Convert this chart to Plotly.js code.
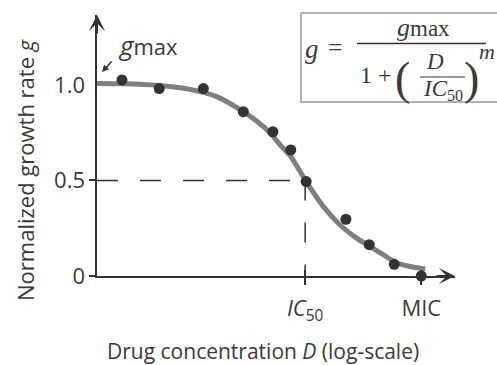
<!DOCTYPE html>
<html>
<head>
<meta charset="utf-8">
<script src="https://cdn.plot.ly/plotly-3.0.1.min.js"></script>
<style>html,body{margin:0;padding:0;background:#fff;}#chart{width:497px;height:365px;}</style>
</head>
<body>
<div id="chart"></div>
<script>
// Measured data (x: log-scale position, IC50 = 1; y: normalized growth rate)
var dotX = [0.120, 0.299, 0.511, 0.703, 0.845, 0.931, 1.005, 1.196, 1.308, 1.428, 1.558];
var dotY = [1.026, 0.981, 0.981, 0.860, 0.755, 0.660, 0.494, 0.297, 0.164, 0.061, 0.0];
var fitX = [0, 0.127, 0.287, 0.447, 0.575, 0.703, 0.800, 0.845, 0.880, 0.931, 1.005, 1.088, 1.168, 1.249, 1.308, 1.377, 1.441, 1.505, 1.561, 1.577];
var fitY = [1.008, 1.006, 0.998, 0.977, 0.939, 0.860, 0.782, 0.733, 0.686, 0.625, 0.494, 0.363, 0.267, 0.197, 0.157, 0.110, 0.068, 0.050, 0.040, 0.038];
var xTickVals = [1.0, 1.558];
var xTickText = ['<i>IC</i><sub>50</sub>', 'MIC'];
var yTickVals = [0, 0.5, 1.0];
var yTickText = ['0', '0.5', '1.0'];
var halfY = 0.5, ic50X = 1.0;
var xMax = 1.72, yMax = 1.366;

var ink = '#333333';
var textCol = '#3a3a3a';
var sans = 'Open Sans, sans-serif';
var serif = 'Liberation Serif, DejaVu Serif, serif';

// pixel -> paper helpers for the formula box layout (plot area 97..455 x 15..276)
function PX(px){ return (px - 97) / 358; }
function PY(py){ return (276 - py) / 261; }

var traces = [
  {x: fitX, y: fitY, type: 'scatter', mode: 'lines', line: {color: '#7f7f7f', width: 5, shape: 'spline', smoothing: 0.8}, hoverinfo: 'skip', cliponaxis: false},
  {x: dotX, y: dotY, type: 'scatter', mode: 'markers', marker: {color: ink, size: 11}, cliponaxis: false},
  {x: dotX, y: dotY, xaxis: 'x2', yaxis: 'y2', type: 'scatter', mode: 'markers', marker: {opacity: 0}, hoverinfo: 'skip', showlegend: false}
];

var ann = [];
function txt(x, y, s, size, fam, extra){
  var a = {xref: 'paper', yref: 'paper', x: PX(x), y: PY(y), text: s, showarrow: false,
           xanchor: 'center', yanchor: 'middle', font: {family: fam, size: size, color: textCol}};
  if (extra) for (var k in extra) a[k] = extra[k];
  ann.push(a);
}
// axis titles
txt(25, 170, 'Normalized growth rate <i>g</i>', 22, sans, {textangle: -90});
txt(263, 351, 'Drug concentration <i>D</i> (log-scale)', 21, sans);
// g_max label
txt(148, 45, '<span style="font-size:26px"><i>g</i></span>max', 22, sans);
// small arrow to g_max
ann.push({x: 0.024, y: 1.068, xref: 'x', yref: 'y', ax: 11, ay: -12, text: '', showarrow: true,
          arrowhead: 2, arrowsize: 0.9, arrowwidth: 1.5, arrowcolor: ink});
// axis arrow heads
ann.push({x: xMax, y: 0, xref: 'x', yref: 'y', ax: -20, ay: 0, text: '', showarrow: true,
          arrowhead: 3, arrowsize: 1.35, arrowwidth: 2, arrowcolor: ink});
ann.push({x: 0, y: yMax, xref: 'x', yref: 'y', ax: 0, ay: 20, text: '', showarrow: true,
          arrowhead: 3, arrowsize: 1.35, arrowwidth: 2, arrowcolor: ink});
// formula
txt(312, 49, '<i>g</i>', 27, serif);
txt(335, 48, '=', 26, serif);
txt(423, 27, '<span style="font-size:26px"><i>g</i></span>max', 23, serif);
txt(376, 75, '1 +', 24, serif);
txt(402, 78, '(', 46, serif);
txt(435, 62, '<i>D</i>', 23, serif);
txt(443, 90, '<i>IC</i><sub>50</sub>', 23, serif);
txt(471, 78, ')', 46, serif);
txt(487, 52, '<i>m</i>', 22, serif);

var shapes = [
  {type: 'line', xref: 'x', yref: 'y', x0: 0, x1: ic50X, y0: halfY, y1: halfY, line: {color: ink, width: 1.5, dash: '21px,22px'}},
  {type: 'line', xref: 'x', yref: 'y', x0: ic50X, x1: ic50X, y0: halfY, y1: 0, line: {color: ink, width: 1.5, dash: '20px,22px'}},
  {type: 'rect', xref: 'paper', yref: 'paper', x0: PX(301), x1: PX(520), y0: PY(102), y1: PY(13), line: {color: '#999999', width: 1.5}, fillcolor: 'rgba(0,0,0,0)'},
  {type: 'line', xref: 'paper', yref: 'paper', x0: PX(357), x1: PX(486), y0: PY(43.5), y1: PY(43.5), line: {color: ink, width: 1.4}},
  {type: 'line', xref: 'paper', yref: 'paper', x0: PX(420), x1: PX(465), y0: PY(77), y1: PY(77), line: {color: ink, width: 1.2}}
];

var layout = {
  width: 497, height: 365,
  margin: {l: 97, r: 42, t: 15, b: 89},
  paper_bgcolor: '#ffffff', plot_bgcolor: '#ffffff',
  showlegend: false,
  xaxis: {range: [0, xMax], showgrid: false, zeroline: false, showline: true, linecolor: ink, linewidth: 2,
          tickmode: 'array', tickvals: xTickVals, ticktext: xTickText, ticks: 'outside', ticklen: 7, tickwidth: 2, tickcolor: ink,
          ticklabelstandoff: 5, tickfont: {family: sans, size: 22, color: textCol}},
  xaxis2: {overlaying: 'x', anchor: 'y', side: 'bottom', range: [0, xMax], showgrid: false, zeroline: false, showline: false,
           tickmode: 'array', tickvals: xTickVals, ticks: 'inside', ticklen: 6, tickwidth: 2, tickcolor: ink, showticklabels: false},
  yaxis: {range: [0, yMax], showgrid: false, zeroline: false, showline: true, linecolor: ink, linewidth: 2,
          tickmode: 'array', tickvals: [0, 0.5], ticktext: ['0', '0.5'], ticks: 'outside', ticklen: 6, tickwidth: 2, tickcolor: ink,
          showticklabels: false},
  yaxis2: {overlaying: 'y', anchor: 'x', side: 'left', range: [0, yMax], showgrid: false, zeroline: false, showline: false,
           tickmode: 'array', tickvals: yTickVals, ticktext: yTickText, ticks: '', ticklabelstandoff: 11,
           tickfont: {family: sans, size: 22, color: textCol}},
  yaxis3: {overlaying: 'y', anchor: 'free', position: 0, side: 'right', range: [0, yMax], showgrid: false, zeroline: false, showline: false,
           tickmode: 'array', tickvals: [halfY], ticks: 'outside', ticklen: 5, tickwidth: 2, tickcolor: ink, showticklabels: false},
  shapes: shapes,
  annotations: ann
};

Plotly.newPlot('chart', traces, layout, {displayModeBar: false, staticPlot: true});
</script>
</body>
</html>
